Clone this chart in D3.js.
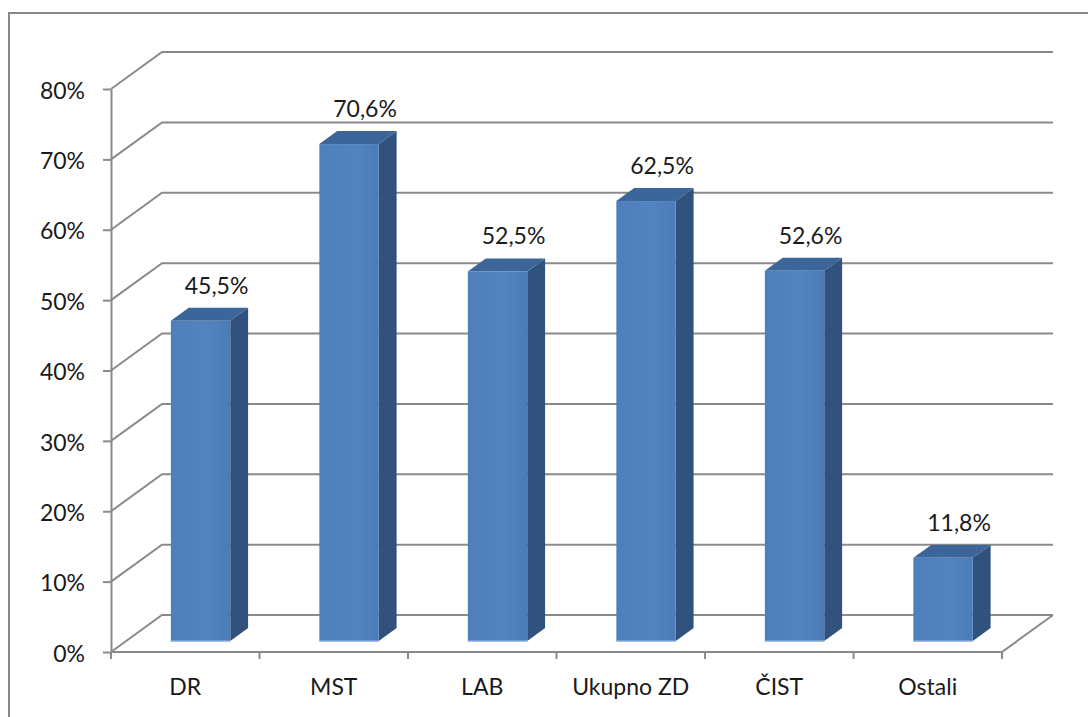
<!DOCTYPE html>
<html>
<head>
<meta charset="utf-8">
<script src="https://cdn.jsdelivr.net/npm/d3@7"></script>
<style>
    html, body { margin: 0; padding: 0; background: #fff; }
    svg { display: block; font-family: Lato, "Open Sans", sans-serif; }
    .axis text { font-size: 23px; fill: #1a1a1a; }
</style>
</head>
<body>
<svg id="svg" width="1088" height="717"></svg>
<script>
    const categories = ['DR', 'MST', 'LAB', 'Ukupno ZD', 'ČIST', 'Ostali']
    const values = [0.455, 0.706, 0.525, 0.625, 0.526, 0.118]
    const valueLabels = ['45,5%', '70,6%', '52,5%', '62,5%', '52,6%', '11,8%']
    const yTicks = [0, 0.1, 0.2, 0.3, 0.4, 0.5, 0.6, 0.7, 0.8]

    const width = 1088
    const height = 717
    const margin = { top: 89, right: 86, bottom: 65, left: 111 }
    const gridColor = '#8a8a8a'

    // depth of the floor / back wall, and where the bars sit in it
    const depth = { dx: 51, dy: -37 }
    const barOffset = 0.3
    const barDepth = 0.35

    const svg = d3.select('#svg')

    // chart border (runs off right and bottom)
    svg.append('path')
        .attr('d', `M9,${height + 5}V13H${width + 5}`)
        .attr('fill', 'none')
        .attr('stroke', '#888')
        .attr('stroke-width', 2)

    const xScale = d3.scaleBand()
        .domain(categories)
        .range([margin.left, width - margin.right])

    const yScale = d3.scaleLinear()
        .domain([0, 0.8])
        .range([height - margin.bottom, margin.top])

    const x0 = xScale.range()[0]
    const x1 = xScale.range()[1]
    const y0 = yScale(0)

    // back wall gridlines + left wall diagonals
    const grid = svg.append('g').attr('fill', 'none').attr('stroke', gridColor).attr('stroke-width', 2)
    yTicks.forEach((t) => {
        const y = yScale(t)
        grid.append('path')
            .attr('d', `M${x0},${y}L${x0 + depth.dx},${y + depth.dy}H${x1 + depth.dx}`)
    })
    // floor right edge
    grid.append('path')
        .attr('d', `M${x1},${y0}L${x1 + depth.dx},${y0 + depth.dy}`)

    // y axis
    svg.append('g')
        .attr('class', 'axis')
        .attr('transform', `translate(${x0},0)`)
        .call(
            d3.axisLeft(yScale)
                .tickValues(yTicks)
                .tickFormat((d) => Math.round(d * 100) + '%')
                .tickSizeInner(8)
                .tickSizeOuter(0)
                .tickPadding(18)
        )
        .call((g) => g.selectAll('line, .domain').attr('stroke', gridColor).attr('stroke-width', 2))
        .call((g) => g.attr('font-family', null).attr('font-size', null))
        .call((g) => g.selectAll('text').attr('dy', '0.4em'))

    // x axis line + ticks at band edges
    const xAxis = svg.append('g').attr('class', 'axis')
    xAxis.append('line')
        .attr('x1', x0).attr('x2', x1)
        .attr('y1', y0).attr('y2', y0)
        .attr('stroke', gridColor).attr('stroke-width', 2)
    xAxis.selectAll('.tick')
        .data(categories.map((c) => xScale(c)).concat([x1]))
        .join('line')
        .attr('x1', (d) => d).attr('x2', (d) => d)
        .attr('y1', y0).attr('y2', y0 + 7)
        .attr('stroke', gridColor).attr('stroke-width', 2)
    xAxis.selectAll('.cat')
        .data(categories)
        .join('text')
        .attr('x', (d) => xScale(d) + xScale.bandwidth() / 2)
        .attr('y', 695)
        .attr('text-anchor', 'middle')
        .text((d) => d)

    // bars
    const barWidth = xScale.bandwidth() * 0.4
    const ox = depth.dx * barOffset
    const oy = depth.dy * barOffset
    const bx = depth.dx * barDepth
    const by = depth.dy * barDepth

    const defs = svg.append('defs')
    const grad = defs.append('linearGradient').attr('id', 'front').attr('x1', 0).attr('x2', 1).attr('y1', 0).attr('y2', 0)
    grad.append('stop').attr('offset', '0%').attr('stop-color', '#4e7fbb')
    grad.append('stop').attr('offset', '60%').attr('stop-color', '#5284c0')
    grad.append('stop').attr('offset', '100%').attr('stop-color', '#4b7cb8')

    const bars = svg.append('g').attr('class', 'bars')
        .selectAll('g')
        .data(categories.map((c, i) => ({ cat: c, value: values[i], label: valueLabels[i] })))
        .join('g')

    const barLeft = (d) => xScale(d.cat) + (xScale.bandwidth() - barWidth) / 2 + ox
    const barBottom = y0 + oy
    const barTop = (d) => yScale(d.value) + oy

    // side face
    bars.append('path')
        .attr('fill', '#30527c')
        .attr('d', (d) => {
            const r = barLeft(d) + barWidth
            return `M${r},${barBottom}L${r + bx},${barBottom + by}L${r + bx},${barTop(d) + by}L${r},${barTop(d)}Z`
        })
    // top face
    bars.append('path')
        .attr('fill', '#3c6599')
        .attr('d', (d) => {
            const l = barLeft(d)
            const t = barTop(d)
            return `M${l},${t}L${l + bx},${t + by}H${l + barWidth + bx}L${l + barWidth},${t}Z`
        })
    // front face
    bars.append('rect')
        .attr('fill', 'url(#front)')
        .attr('x', (d) => barLeft(d))
        .attr('y', (d) => barTop(d))
        .attr('width', barWidth)
        .attr('height', (d) => barBottom - barTop(d))
    bars.append('line')
        .attr('x1', (d) => barLeft(d)).attr('x2', (d) => barLeft(d) + barWidth)
        .attr('y1', barBottom).attr('y2', barBottom)
        .attr('stroke', '#7fa6d8').attr('stroke-width', 1.5)

    // value labels
    bars.append('text')
        .style('font-size', '23px')
        .attr('fill', '#1a1a1a')
        .attr('text-anchor', 'middle')
        .attr('x', (d) => barLeft(d) + barWidth / 2 + 16)
        .attr('y', (d) => barTop(d) - 27)
        .text((d) => d.label)
</script>
</body>
</html>
